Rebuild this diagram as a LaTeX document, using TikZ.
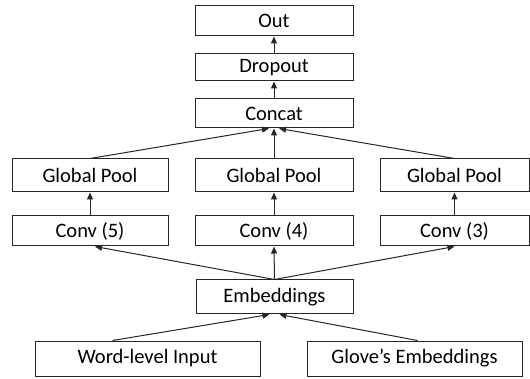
\documentclass[tikz,border=0pt]{standalone}
\usepackage{fontspec}
\setmainfont{Carlito}
\usetikzlibrary{arrows.meta}
\begin{document}
\begin{tikzpicture}[x=1pt,y=-1pt,
  blk/.style={draw=black!85, line width=1pt, fill=white, inner sep=0pt, font=\fontsize{20.5}{24}\selectfont},
  conn/.style={draw=black!85, line width=1pt, -{Triangle[length=7pt,width=6pt]}}]
\useasboundingbox (0,0) rectangle (530,379);
% boxes: name, x1,y1,x2,y2
\newcommand{\mybox}[6]{\node[blk, minimum width=#4-#2, minimum height=#5-#3] (#1) at ({(#2+#4)/2},{(#3+#5)/2}) {#6};}
\mybox{out}{195}{6}{353}{36}{Out}
\mybox{drop}{195}{54}{353}{81}{Dropout}
\mybox{cat}{195}{99}{353}{128}{Concat}
\mybox{gpl}{12}{159}{168}{192}{Global Pool}
\mybox{gpm}{195}{159}{353}{192}{Global Pool}
\mybox{gpr}{380}{159}{529}{192}{Global Pool}
\mybox{cvl}{12}{216}{168}{246}{Conv (5)}
\mybox{cvm}{195}{216}{353}{246}{Conv (4)}
\mybox{cvr}{380}{216}{529}{246}{Conv (3)}
\mybox{emb}{196}{280}{353}{314}{Embeddings}
\mybox{wli}{35}{341}{260}{376}{Word-level Input}
\mybox{glv}{307}{341}{522}{376}{Glove’s Embeddings}
% connectors
\draw[conn] (drop.north) -- (out.south);
\draw[conn] (cat.north) -- (drop.south);
\draw[conn] (gpl.north) -- ([xshift=-5pt]cat.south);
\draw[conn] (gpm.north) -- (cat.south);
\draw[conn] (gpr.north) -- ([xshift=5pt]cat.south);
\draw[conn] (cvl.north) -- (gpl.south);
\draw[conn] (cvm.north) -- (gpm.south);
\draw[conn] (cvr.north) -- (gpr.south);
\draw[conn] (emb.north) -- ([xshift=5pt]cvl.south);
\draw[conn] (emb.north) -- (cvm.south);
\draw[conn] (emb.north) -- (cvr.south);
\draw[conn] ([xshift=-35pt]wli.north) -- ([xshift=-5pt]emb.south);
\draw[conn] ([xshift=3pt]glv.north) -- ([xshift=5pt]emb.south);
\end{tikzpicture}
\end{document}
